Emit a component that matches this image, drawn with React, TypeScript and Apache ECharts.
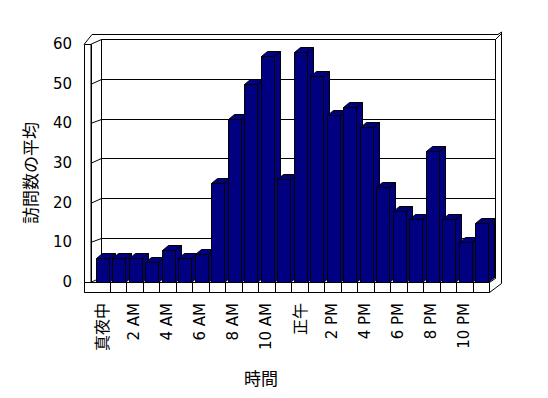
import React, { useEffect, useRef } from "react";
import * as echarts from "echarts";

const categories = [
  "真夜中", "1 AM", "2 AM", "3 AM", "4 AM", "5 AM", "6 AM", "7 AM", "8 AM", "9 AM", "10 AM", "11 AM",
  "正午", "1 PM", "2 PM", "3 PM", "4 PM", "5 PM", "6 PM", "7 PM", "8 PM", "9 PM", "10 PM", "11 PM",
];
const visits = [6, 6, 6, 5, 8, 6, 7, 25, 41, 50, 57, 26, 58, 52, 42, 44, 39, 24, 18, 16, 33, 16, 10, 15];
const yTicks = [0, 10, 20, 30, 40, 50, 60];
const yAxisTitle = "訪問数の平均";
const xAxisTitle = "時間";

const FONT = "'Noto Sans CJK JP', 'Noto Sans', sans-serif";
const TICKFONT = "'DejaVu Sans', 'Noto Sans CJK JP', sans-serif";
const NAVY = "#000080";

const c = (v: number) => Math.round(v) + 0.5;
const L = (x1: number, y1: number, x2: number, y2: number) => ({
  type: "line",
  shape: { x1, y1, x2, y2 },
  style: { stroke: "#000", lineWidth: 1 },
});

export default function App() {
  const ref = useRef<HTMLDivElement>(null);
  useEffect(() => {
    if (!ref.current) return;
    const chart = echarts.init(ref.current, undefined, { renderer: "svg" });
    const n = categories.length;

    const geom = (api: any) => {
      const p0 = api.coord([0, 0]);
      const bw = api.size([1, 0])[0];
      const x0 = p0[0] - bw / 2;
      const x1 = x0 + n * bw;
      const yOf = (v: number) => api.coord([0, v])[1];
      return { bw, x0, x1, yOf };
    };

    const backRender = (_p: any, api: any) => {
      const { x0, x1, yOf } = geom(api);
      const y0 = yOf(yTicks[0]);
      const yTop = yOf(yTicks[yTicks.length - 1]);
      const bl = x0 + 7.7;
      const br = x1 + 6;
      const children: any[] = [];
      children.push({
        type: "rect",
        shape: { x: c(bl), y: c(yTop - 4.7), width: Math.round(br - bl), height: Math.round(y0 - yTop) },
        style: { fill: "#fff", stroke: "#000", lineWidth: 1 },
      });
      yTicks.forEach((v) => {
        const y = yOf(v);
        children.push(L(c(bl), c(y - 4.7), c(br), c(y - 4.7)));
        children.push(L(x0 - 2.5, c(y), c(bl), c(y - 4.7)));
      });
      children.push(L(x0 - 1, c(yTop - 9.7), x1 + 9, c(yTop - 9.7)));
      children.push(L(x0 - 9, yTop + 0.5, x0 - 1, c(yTop - 9.7)));
      children.push(L(x1 + 9, c(yTop - 9.7), c(x1 + 11.5), yTop - 12));
      children.push(L(c(x1 + 11.5), yTop - 12, c(x1 + 11.5), y0 + 1.5));
      children.push(L(c(br), c(yTop - 4.7), c(x1 + 11.5), yTop - 10.5));
      return { type: "group", children };
    };

    const barRender = (params: any, api: any) => {
      const { bw, x0, yOf } = geom(api);
      const i = params.dataIndex;
      const v = api.value(1);
      const xl = c(x0 + i * bw + 0.16 * bw);
      const w = Math.round(0.81 * bw);
      const xr = xl + w;
      const yt = c(yOf(v));
      const yb = c(yOf(0));
      const dx = 6;
      const dy = -5;
      const st = { fill: NAVY, stroke: "#000", lineWidth: 1 };
      return {
        type: "group",
        children: [
          { type: "polygon", shape: { points: [[xr, yt], [xr + dx, yt + dy], [xr + dx, yb + dy], [xr, yb]] }, style: st },
          { type: "polygon", shape: { points: [[xl, yt], [xl + dx, yt + dy], [xr + dx, yt + dy], [xr, yt]] }, style: st },
          { type: "rect", shape: { x: xl, y: yt, width: w, height: yb - yt }, style: st },
        ],
      };
    };

    const frontRender = (_p: any, api: any) => {
      const { bw, x0, x1, yOf } = geom(api);
      const y0 = yOf(yTicks[0]);
      const yTop = yOf(yTicks[yTicks.length - 1]);
      const children: any[] = [];
      children.push({
        type: "rect",
        shape: { x: c(x0 - 9), y: c(yTop), width: 6.5, height: Math.round(y0 - yTop) + 10 },
        style: { fill: "#fff", stroke: "#000", lineWidth: 1 },
      });
      children.push({
        type: "rect",
        shape: { x: c(x0 - 9), y: c(y0), width: Math.round(x1 - (x0 - 9)), height: 10 },
        style: { fill: "#fff", stroke: "#000", lineWidth: 1 },
      });
      children.push(L(c(x0 - 2.5), c(yTop), c(x0 - 2.5), c(y0)));
      for (let k = 1; k <= n; k++) {
        const x = c(x0 + k * bw);
        children.push(L(x, c(y0), x, c(y0) + 10));
      }
      const xe = c(x0 - 9) + Math.round(x1 - (x0 - 9));
      children.push(L(xe, c(y0) + 10, c(x1 + 11.5), y0 + 1.5));
      children.push(L(xe, c(y0), x1 + 7, y0 - 4));
      return { type: "group", children };
    };

    chart.setOption({
      animation: false,
      backgroundColor: "#fff",
      grid: { left: 93, top: 44, width: 396, height: 238, containLabel: false },
      xAxis: {
        type: "category",
        data: categories,
        axisLine: { show: false },
        axisTick: { show: false },
        splitLine: { show: false },
        axisLabel: {
          interval: 1,
          rotate: 90,
          margin: 21,
          fontSize: 15,
          color: "#000",
          fontFamily: TICKFONT,
          formatter: (val: string) => (/[A-Za-z0-9]/.test(val) ? val : "{cjk|" + val + "}"),
          rich: {
            cjk: { fontSize: 16, fontFamily: FONT, color: "#000" },
          },
        },
      },
      yAxis: {
        type: "value",
        min: 0,
        max: 60,
        interval: 10,
        axisLine: { show: false },
        axisTick: { show: false },
        splitLine: { show: false },
        axisLabel: { margin: 21, fontSize: 15, color: "#000", fontFamily: TICKFONT },
      },
      graphic: [
        {
          type: "text",
          x: 29,
          y: 173,
          rotation: Math.PI / 2,
          style: {
            text: yAxisTitle,
            fontSize: 17,
            fontFamily: FONT,
            fill: "#000",
            align: "center",
            verticalAlign: "middle",
          },
        },
        {
          type: "text",
          x: 261,
          y: 377,
          style: {
            text: xAxisTitle,
            fontSize: 17,
            fontFamily: FONT,
            fill: "#000",
            align: "center",
            verticalAlign: "middle",
          },
        },
      ],
      series: [
        {
          type: "custom",
          name: "back",
          coordinateSystem: "cartesian2d",
          clip: false,
          silent: true,
          z: 1,
          data: [[0, 0]],
          renderItem: backRender,
        },
        {
          type: "custom",
          name: "訪問数の平均",
          coordinateSystem: "cartesian2d",
          clip: false,
          z: 2,
          data: visits.map((v, i) => [i, v]),
          encode: { x: 0, y: 1 },
          renderItem: barRender,
        },
        {
          type: "custom",
          name: "front",
          coordinateSystem: "cartesian2d",
          clip: false,
          silent: true,
          z: 3,
          data: [[0, 0]],
          renderItem: frontRender,
        },
      ],
    });
    return () => chart.dispose();
  }, []);
  return (
    <div
      ref={ref}
      style={{ position: "fixed", left: 0, top: 0, width: 548, height: 398, background: "#fff" }}
    />
  );
}
